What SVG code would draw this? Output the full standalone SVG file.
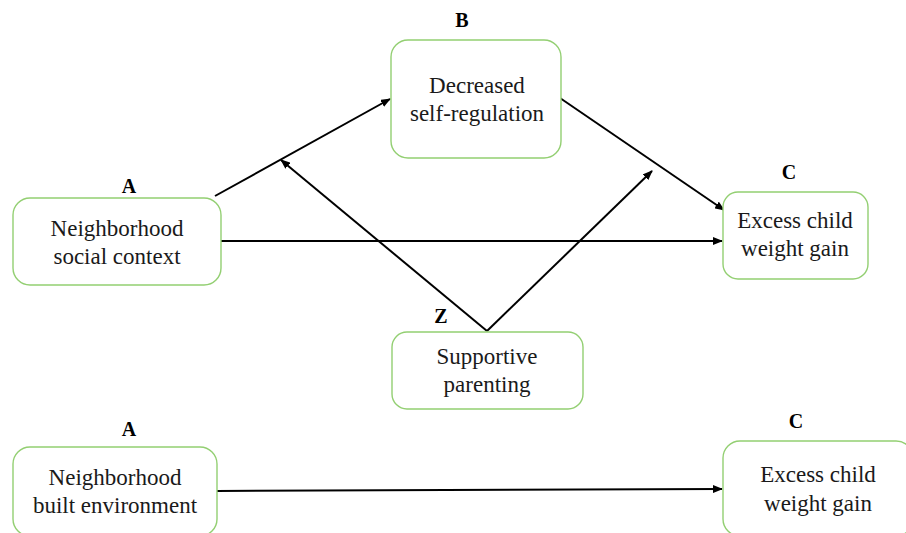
<svg xmlns="http://www.w3.org/2000/svg" width="906" height="533" viewBox="0 0 906 533">
<style>
.box{fill:#ffffff;stroke:#93cf72;stroke-width:1.4}
.t{font-family:"Liberation Serif","Times New Roman",serif;font-size:23px;fill:#1a1a1a;text-anchor:middle}
.lbl{font-family:"Liberation Serif","Times New Roman",serif;font-size:20px;font-weight:bold;fill:#000;text-anchor:middle}
.ln{stroke:#000;stroke-width:2;fill:none}
</style>
<defs>
<marker id="ah" markerUnits="userSpaceOnUse" markerWidth="10" markerHeight="8" refX="9" refY="4" orient="auto">
<path d="M0,0 L10,4 L0,8 z" fill="#000"/>
</marker>
</defs>
<rect width="906" height="533" fill="#ffffff"/>
<g id="connectors">
<line class="ln" x1="215" y1="196" x2="390" y2="99" marker-end="url(#ah)"/>
<line class="ln" x1="487" y1="331" x2="281" y2="160" marker-end="url(#ah)"/>
<line class="ln" x1="487" y1="331" x2="652" y2="171" marker-end="url(#ah)"/>
<line class="ln" x1="560" y1="98" x2="724" y2="210" marker-end="url(#ah)"/>
<line class="ln" x1="221" y1="241" x2="722" y2="241" marker-end="url(#ah)"/>
<line class="ln" x1="217" y1="491" x2="722" y2="489" marker-end="url(#ah)"/>
</g>
<g id="node-b">
<rect class="box" x="391" y="40" width="170" height="118" rx="17"/>
<text class="lbl" x="462" y="27">B</text>
<text class="t" x="477" y="93">Decreased</text>
<text class="t" x="477" y="121">self-regulation</text>
</g>
<g id="node-a">
<rect class="box" x="13" y="198" width="208" height="87" rx="17"/>
<text class="lbl" x="129" y="193">A</text>
<text class="t" x="117" y="236">Neighborhood</text>
<text class="t" x="117" y="264">social context</text>
</g>
<g id="node-c">
<rect class="box" x="723" y="192" width="145" height="87" rx="15"/>
<text class="lbl" x="789" y="179">C</text>
<text class="t" x="795" y="228">Excess child</text>
<text class="t" x="795" y="256">weight gain</text>
</g>
<g id="node-z">
<rect class="box" x="392" y="332" width="191" height="77" rx="15"/>
<text class="lbl" x="441" y="323">Z</text>
<text class="t" x="487" y="364">Supportive</text>
<text class="t" x="487" y="392">parenting</text>
</g>
<g id="node-a2">
<rect class="box" x="13" y="447" width="204" height="89" rx="17"/>
<text class="lbl" x="129" y="436">A</text>
<text class="t" x="115" y="485">Neighborhood</text>
<text class="t" x="115" y="513">built environment</text>
</g>
<g id="node-c2">
<rect class="box" x="723" y="441" width="190" height="95" rx="17"/>
<text class="lbl" x="796" y="428">C</text>
<text class="t" x="818" y="482">Excess child</text>
<text class="t" x="818" y="511">weight gain</text>
</g>
</svg>
